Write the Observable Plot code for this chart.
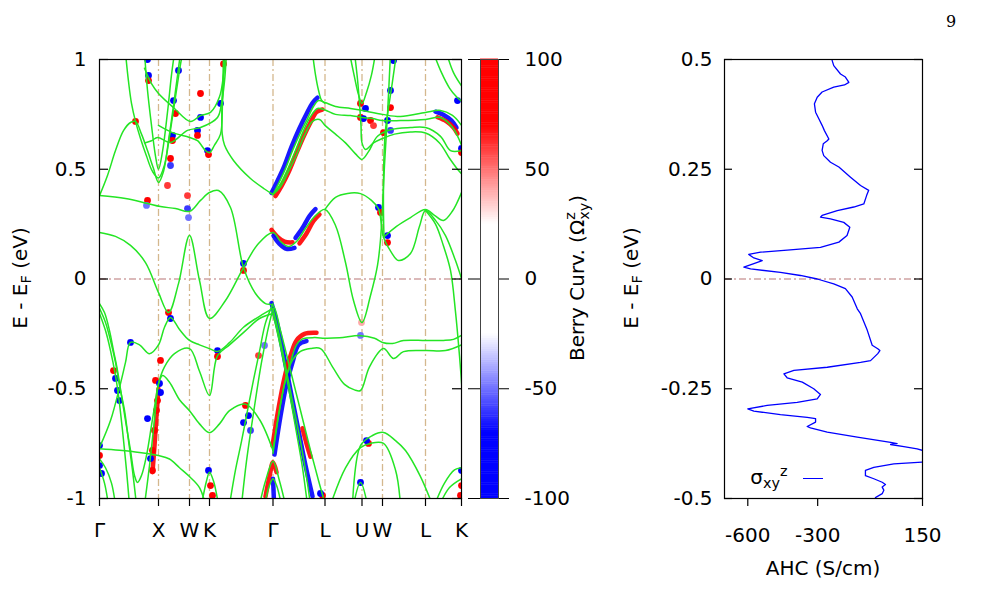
<!DOCTYPE html>
<html>
<head>
<meta charset="utf-8">
<script src="https://cdn.jsdelivr.net/npm/d3@7"></script>
<script src="https://cdn.jsdelivr.net/npm/@observablehq/plot@0.6"></script>
<style>
  body { margin: 0; background: #fff; }
  #fig { position: relative; width: 989px; height: 605px; overflow: hidden; background: #fff;
         font-family: "DejaVu Sans", sans-serif; color: #000; }
  #fig > svg { position: absolute; top: 0; }
  .lab { position: absolute; font-size: 20px; white-space: nowrap; line-height: 1; }
  .rot { transform: translate(-50%, -50%) rotate(-90deg); }
  .ctr { transform: translate(-50%, -50%); }
  .lab sub { font-size: 0.72em; vertical-align: -0.3em; }
  .lab sup { font-size: 0.72em; vertical-align: 0.55em; }
  .stack { display: inline-block; font-size: 0.72em; line-height: 0.95; vertical-align: -0.38em; text-align: left; }
  .stack span { display: block; }
  .page { position: absolute; left: 946px; top: 12px; font-family: "DejaVu Serif", "Liberation Serif", serif; font-size: 16px; }
  .keyline { position: absolute; left: 803px; top: 478px; width: 20px; border-top: 1.3px solid #0000ff; }
</style>
</head>
<body>
<div id="fig"></div>
<script>
// ---- high-symmetry path --------------------------------------------------
const kTicks  = [0, 0.59, 0.90, 1.10, 1.735, 2.255, 2.625, 2.83, 3.26, 3.62];
const kLabels = ["Γ", "X", "W", "K", "Γ", "L", "U", "W", "L", "K"];
const eTicks  = [-1, -0.5, 0, 0.5, 1];

// ---- band energies [k, E - E_F (eV)] ---------------------------------------
const band01 = [[0,0.380],[0.26,0.367],[0.48,0.344],[0.61,0.330],[0.76,0.321],[0.90,0.308],[1.01,0.358],[1.10,0.394],[1.19,0.403],[1.31,0.326],[1.44,0.052],[1.56,-0.066],[1.66,-0.112],[1.735,-0.121],[1.81,-0.235],[1.91,-0.417],[2.01,-0.599],[2.11,-0.781],[2.19,-0.918],[2.26,-1.03]];
const band02 = [[0,0.212],[0.16,0.194],[0.31,0.153],[0.46,0.075],[0.59,-0.062],[0.69,-0.153],[0.79,-0.021],[0.90,0.198],[1.00,-0.007],[1.10,-0.180],[1.26,-0.098],[1.44,0.052],[1.59,0.162],[1.735,0.212],[1.81,0.171],[1.89,0.148],[1.97,0.171],[2.06,0.230],[2.16,0.289],[2.255,0.317],[2.36,0.244],[2.46,0.075],[2.54,-0.098],[2.625,-0.198],[2.71,-0.075],[2.78,0.062],[2.81,0.180],[2.83,0.330],[2.85,0.520],[2.88,0.750],[2.91,1.03]];
const band03 = [[2.255,0.317],[2.36,0.372],[2.48,0.390],[2.61,0.389],[2.72,0.358],[2.79,0.320],[2.84,0.190],[2.92,0.120],[2.99,0.084],[3.11,0.116],[3.20,0.240],[3.26,0.312],[3.36,0.267],[3.46,0.198],[3.56,0.084],[3.62,0.002]];
const band04 = [[2.84,0.190],[2.97,0.240],[3.11,0.280],[3.26,0.317],[3.35,0.290],[3.44,0.267],[3.53,0.310],[3.62,0.394]];
const band05 = [[1.735,0.385],[1.79,0.435],[1.86,0.503],[1.93,0.585],[2.01,0.667],[2.08,0.731],[2.14,0.786],[2.19,0.813],[2.255,0.804],[2.36,0.786],[2.51,0.777],[2.625,0.768],[2.83,0.750],[3.01,0.740],[3.26,0.759],[3.41,0.768],[3.53,0.745],[3.62,0.700]];
const band06 = [[1.735,0.385],[1.80,0.426],[1.88,0.499],[1.96,0.585],[2.04,0.676],[2.11,0.740],[2.18,0.777],[2.255,0.770],[2.36,0.750],[2.51,0.745],[2.625,0.736],[2.73,0.731],[2.83,0.722],[3.01,0.722],[3.26,0.727],[3.41,0.736],[3.53,0.690],[3.62,0.610]];
const band07 = [[1.735,0.385],[1.81,0.420],[1.89,0.490],[1.97,0.565],[2.05,0.654],[2.13,0.718],[2.20,0.727],[2.255,0.700],[2.36,0.660],[2.46,0.620],[2.56,0.570],[2.625,0.545],[2.69,0.580],[2.78,0.650],[2.91,0.680],[3.11,0.690],[3.26,0.690],[3.41,0.650],[3.51,0.585],[3.62,0.585]];
const band08 = [[2.50,1.03],[2.55,0.92],[2.59,0.84],[2.625,0.800],[2.67,0.850],[2.72,0.930],[2.76,1.03]];
const band09 = [[2.55,1.03],[2.58,0.91],[2.60,0.80],[2.615,0.70],[2.625,0.62],[2.66,0.59],[2.74,0.62],[2.83,0.64],[2.95,0.66],[3.11,0.67],[3.26,0.665],[3.40,0.62],[3.50,0.55],[3.58,0.50],[3.62,0.48]];
const band10 = [[2.97,1.03],[2.93,0.90],[2.89,0.78],[2.86,0.68],[2.845,0.56],[2.84,0.44],[2.84,0.30],[2.845,0.19]];
const band11 = [[2.13,1.03],[2.16,0.93],[2.19,0.86],[2.22,0.815],[2.255,0.800]];
const band12 = [[3.34,1.03],[3.42,0.94],[3.50,0.87],[3.57,0.83],[3.62,0.81]];
const band13 = [[3.47,1.03],[3.54,0.94],[3.62,0.88]];
const band14 = [[0,0.380],[0.08,0.472],[0.16,0.585],[0.24,0.676],[0.31,0.713],[0.36,0.718],[0.42,0.660],[0.48,0.585],[0.54,0.503],[0.59,0.440],[0.64,0.490],[0.69,0.631],[0.74,0.790],[0.78,0.927],[0.81,1.03]];
const band15 = [[0.26,1.03],[0.29,0.90],[0.32,0.80],[0.36,0.718],[0.41,0.640],[0.47,0.560],[0.53,0.490],[0.59,0.460],[0.65,0.52],[0.70,0.65],[0.75,0.80],[0.80,0.95],[0.83,1.03]];
const band16 = [[0.45,1.03],[0.48,0.86],[0.52,0.70],[0.56,0.56],[0.59,0.50],[0.63,0.58],[0.68,0.76],[0.72,0.93],[0.75,1.03]];
const band17 = [[0.45,0.96],[0.52,0.89],[0.59,0.845],[0.75,0.777],[0.91,0.718],[1.01,0.745],[1.11,0.759],[1.20,0.830],[1.24,0.930],[1.26,1.03]];
const band18 = [[0.45,0.62],[0.52,0.63],[0.58,0.645],[0.71,0.622],[0.88,0.677],[1.01,0.690],[1.18,0.736],[1.22,0.80],[1.25,0.90],[1.27,1.03]];
const band19 = [[0.59,0.70],[0.73,0.667],[0.90,0.645],[0.98,0.630],[1.06,0.585],[1.10,0.575],[1.15,0.610],[1.21,0.660],[1.23,0.80],[1.25,1.03]];
const band20 = [[1.735,0.385],[1.65,0.410],[1.51,0.458],[1.34,0.540],[1.25,0.610],[1.227,0.661],[1.225,0.80],[1.235,0.92],[1.24,1.03]];
const band21 = [[0,-0.112],[0.05,-0.153],[0.10,-0.235],[0.14,-0.326],[0.18,-0.417],[0.22,-0.531],[0.26,-0.645],[0.31,-0.781],[0.35,-0.895],[0.38,-0.927],[0.42,-0.895],[0.47,-0.804],[0.52,-0.667],[0.56,-0.554],[0.59,-0.476],[0.65,-0.400],[0.75,-0.340],[0.90,-0.317],[1.00,-0.420],[1.10,-0.531],[1.18,-0.349],[1.30,-0.300],[1.45,-0.240],[1.60,-0.180],[1.735,-0.157]];
const band22 = [[0,-0.134],[0.06,-0.198],[0.11,-0.280],[0.16,-0.380],[0.20,-0.485],[0.25,-0.599],[0.29,-0.736],[0.33,-0.872],[0.37,-1.03]];
const band23 = [[0,-0.157],[0.06,-0.235],[0.11,-0.326],[0.16,-0.440],[0.19,-0.531],[0.23,-0.690],[0.27,-0.872],[0.30,-1.03]];
const band24 = [[0,-0.768],[0.11,-0.645],[0.21,-0.476],[0.26,-0.380],[0.31,-0.289],[0.40,-0.300],[0.50,-0.340],[0.59,-0.300],[0.65,-0.220],[0.71,-0.175],[0.80,-0.230],[0.90,-0.280],[1.00,-0.300],[1.10,-0.317],[1.18,-0.330],[1.30,-0.290],[1.44,-0.220],[1.60,-0.170],[1.735,-0.134]];
const band25 = [[0,-0.773],[0.20,-0.780],[0.40,-0.790],[0.59,-0.804],[0.70,-0.820],[0.80,-0.860],[0.90,-0.900],[1.00,-0.950],[1.06,-1.03]];
const band26 = [[0.45,-1.03],[0.50,-0.85],[0.55,-0.64],[0.59,-0.480],[0.63,-0.440],[0.70,-0.470],[0.80,-0.550],[0.90,-0.600],[1.00,-0.660],[1.10,-0.700],[1.20,-0.660],[1.30,-0.600],[1.46,-0.570],[1.60,-0.640],[1.735,-0.781]];
const band27 = [[1.735,-0.781],[1.79,-0.620],[1.85,-0.480],[1.91,-0.380],[1.97,-0.300],[2.03,-0.273],[2.15,-0.267],[2.255,-0.270],[2.40,-0.268],[2.61,-0.258],[2.75,-0.270],[2.83,-0.289],[2.93,-0.294],[3.04,-0.280],[3.26,-0.280],[3.44,-0.280],[3.54,-0.275],[3.62,-0.257]];
const band28 = [[1.735,-0.795],[1.80,-0.600],[1.86,-0.460],[1.93,-0.370],[2.01,-0.330],[2.11,-0.317],[2.21,-0.317],[2.33,-0.400],[2.45,-0.480],[2.55,-0.505],[2.61,-0.508],[2.70,-0.400],[2.84,-0.317],[2.94,-0.362],[3.04,-0.331],[3.26,-0.326],[3.46,-0.326],[3.62,-0.300]];
const band29 = [[2.31,-1.03],[2.46,-0.86],[2.61,-0.768],[2.71,-0.749],[2.84,-0.749],[2.96,-0.870],[3.01,-1.03]];
const band30 = [[2.53,-1.03],[2.61,-0.759],[2.73,-0.713],[2.84,-0.699],[2.96,-0.736],[3.06,-0.781],[3.21,-0.900],[3.33,-1.03]];
const band31 = [[2.54,-1.03],[2.61,-0.927],[2.68,-1.03]];
const band32 = [[3.35,-1.03],[3.45,-0.930],[3.55,-0.870],[3.62,-0.860]];
const band33 = [[3.40,-1.03],[3.50,-0.950],[3.62,-0.910]];
const band34 = [[3.26,0.312],[3.36,0.250],[3.44,0.150],[3.51,0.039],[3.56,-0.150],[3.60,-0.350],[3.63,-0.53]];
const band35 = [[1.735,-0.112],[1.66,-0.200],[1.60,-0.330],[1.54,-0.460],[1.48,-0.600],[1.42,-0.740],[1.36,-0.870],[1.30,-1.03]];
const band36 = [[1.735,-0.134],[1.68,-0.240],[1.62,-0.380],[1.57,-0.520],[1.52,-0.670],[1.47,-0.830],[1.42,-1.03]];
const band37 = [[1.735,-0.134],[1.80,-0.260],[1.87,-0.420],[1.94,-0.580],[2.01,-0.740],[2.07,-0.900],[2.11,-1.03]];
const band38 = [[1.735,-0.157],[1.82,-0.330],[1.90,-0.520],[1.97,-0.700],[2.03,-0.860],[2.08,-1.03]];
const band39 = [[1.60,-1.03],[1.66,-0.920],[1.735,-0.830],[1.80,-0.920],[1.86,-1.03]];
const band40 = [[1.65,-1.03],[1.70,-0.940],[1.735,-0.910],[1.77,-0.940],[1.82,-1.03]];
const band41 = [[1.02,-1.03],[1.07,-0.920],[1.10,-0.880],[1.14,-0.920],[1.19,-1.03]];
const band42 = [[0,-0.820],[0.06,-0.860],[0.12,-0.930],[0.16,-1.03]];
const band43 = [[0,-0.860],[0.05,-0.930],[0.09,-1.03]];

const bands = [band01, band02, band03, band04, band05, band06, band07, band08, band09, band10,
  band11, band12, band13, band14, band15, band16, band17, band18, band19, band20,
  band21, band22, band23, band24, band25, band26, band27, band28, band29, band30,
  band31, band32, band33, band34, band35, band36, band37, band38, band39, band40,
  band41, band42, band43];

// ---- Berry curvature Ω^z_xy along the bands --------------------------------
// hot spots [k, E, Ω]
const berryDots = [
  [0.48,1.0,-80],[0.49,0.927,-90],[0.49,0.904,80],[0.79,0.95,-80],[1.01,0.845,90],[1.24,0.98,90],
  [0.74,0.813,-90],[0.76,0.754,80],[1.21,0.80,-90],[1.01,0.736,-70],[0.98,0.677,-90],[0.98,0.654,90],
  [0.73,0.654,-90],[0.73,0.631,80],[1.08,0.585,-100],[1.09,0.567,90],[0.71,0.549,70],[0.71,0.517,-60],
  [0.36,0.718,90],[0.48,0.358,90],[0.47,0.335,-50],[0.68,0.426,60],[0.88,0.38,60],[0.88,0.321,-60],
  [0.89,0.28,-50],[1.44,0.071,-100],[1.44,0.039,90],
  [2.61,0.80,90],[2.66,0.777,-90],[2.61,0.736,90],[2.64,0.731,-80],[2.71,0.722,90],[2.74,0.699,60],
  [2.88,0.722,-90],[2.91,0.677,-60],[2.84,0.667,70],[2.94,0.995,-90],[2.91,0.859,-90],[2.91,0.781,90],
  [2.79,0.326,-100],[2.81,0.303,90],[2.88,0.198,-100],[2.88,0.166,80],[3.62,0.595,-100],[3.62,0.576,90],
  [3.58,0.813,-70],
  [0,-0.759,-100],[0,-0.804,90],[0,-0.850,-100],[0.02,-0.886,-80],[0.14,-0.417,80],[0.16,-0.453,-100],
  [0.18,-0.508,-100],[0.20,-0.554,-70],[0.31,-0.289,-80],[0.48,-0.636,-100],[0.61,-0.371,70],
  [0.56,-0.462,100],[0.60,-0.476,-90],[0.61,-0.517,-100],[0.58,-0.554,90],[0.57,-0.599,90],
  [0.55,-0.690,90],[0.53,-0.781,90],[0.51,-0.818,-100],[0.53,-0.872,80],[0.69,-0.153,90],[0.71,-0.180,-70],
  [1.18,-0.326,-100],[1.18,-0.353,80],[1.09,-0.872,-90],[1.11,-0.941,90],[1.13,-0.986,90],
  [1.46,-0.576,90],[1.49,-0.622,-90],[1.44,-0.654,-80],[1.51,-0.690,-60],[1.59,-0.349,60],[1.65,-0.303,-50],
  [2.62,-0.198,40],[2.61,-0.257,-50],[2.69,-0.749,90],[2.67,-0.736,-90],[2.61,-0.927,-70],
  [2.23,-0.986,90],[2.21,-0.977,-90],[3.62,-0.872,-100],[3.62,-0.941,100],[3.61,-0.986,90]
];

// strongly curved stretches, drawn as coloured tracks beside the bands
const trackCondBlue = [[1.72,0.392],[1.78,0.447],[1.85,0.517],[1.92,0.602],[2.00,0.687],[2.07,0.752],[2.13,0.802],[2.18,0.826]];
const trackCondRed  = [[1.76,0.378],[1.82,0.423],[1.89,0.486],[1.96,0.563],[2.04,0.648],[2.11,0.713],[2.17,0.760],[2.23,0.772]];
const trackMidRedA  = [[1.72,0.224],[1.78,0.192],[1.85,0.170],[1.93,0.167]];
const trackMidBlueA = [[1.74,0.197],[1.80,0.160],[1.87,0.137],[1.95,0.142]];
const trackMidBlueB = [[1.96,0.187],[2.03,0.232],[2.10,0.287],[2.16,0.318]];
const trackMidRedB  = [[2.00,0.162],[2.07,0.207],[2.14,0.264],[2.20,0.294]];
const trackValBlue  = [[1.72,-0.110],[1.79,-0.230],[1.86,-0.390],[1.92,-0.530],[1.99,-0.690],[2.06,-0.850],[2.13,-0.990]];
const trackValRed   = [[2.03,-0.68],[2.07,-0.75],[2.11,-0.81]];
const trackLowRed   = [[1.73,-0.760],[1.79,-0.590],[1.85,-0.450],[1.91,-0.350],[1.97,-0.280],[2.05,-0.250],[2.17,-0.245]];
const trackLowBlue  = [[1.75,-0.800],[1.81,-0.625],[1.87,-0.480],[1.93,-0.380],[1.99,-0.300],[2.07,-0.283]];
const trackK2Blue   = [[3.36,0.762],[3.45,0.745],[3.52,0.722],[3.57,0.690]];
const trackK2Red    = [[3.38,0.737],[3.47,0.718],[3.54,0.690],[3.58,0.662]];
const trackXRed     = [[0.53,-0.88],[0.55,-0.76],[0.57,-0.62],[0.59,-0.50]];
const trackBotRed   = [[1.66,-0.99],[1.70,-0.90],[1.735,-0.835],[1.77,-0.88]];
const trackBotBlue  = [[1.735,-0.91],[1.74,-0.96],[1.745,-1.02]];
const trackOmega = [-100, 100, 100, -100, -100, 100, -100, 100, 100, -100, -100, 100, 100, 100, -100];
const tracks = [trackCondBlue, trackCondRed, trackMidRedA, trackMidBlueA, trackMidBlueB, trackMidRedB,
  trackValBlue, trackValRed, trackLowRed, trackLowBlue, trackK2Blue, trackK2Red, trackXRed,
  trackBotRed, trackBotBlue];

// colour bar
const berryDomain = [-100, -70, -25, 25, 70, 100];
const berryRange  = ["#0000ff", "#0000ff", "#ffffff", "#ffffff", "#ff0000", "#ff0000"];
const berryTicks  = [-100, -50, 0, 50, 100];

// ---- anomalous Hall conductivity σ^z_xy (S/cm) vs E - E_F (eV) -------------
const ahcEnergy = [0.5,0.498,0.486,0.467,0.460,0.448,0.442,0.437,0.426,0.414,0.399,0.380,0.365,0.350,0.338,0.319,0.315,0.308,0.293,0.281,0.266,0.255,0.232,0.213,0.202,0.190,0.171,0.164,0.156,0.145,0.141,0.137,0.129,0.118,0.099,0.084,0.072,0.066,0.061,0.056,0.048,0.042,0.035,0.027,0.023,0.015,0.008,0.0,-0.011,-0.022,-0.041,-0.068,-0.079,-0.117,-0.151,-0.159,-0.163,-0.170,-0.186,-0.190,-0.201,-0.208,-0.216,-0.225,-0.235,-0.250,-0.263,-0.273,-0.281,-0.288,-0.296,-0.301,-0.309,-0.315,-0.318,-0.326,-0.336,-0.339,-0.349,-0.360,-0.372,-0.375,-0.377,-0.382,-0.387,-0.391,-0.404,-0.417,-0.421,-0.429,-0.436,-0.448,-0.455,-0.463,-0.468,-0.474,-0.481,-0.489,-0.498,-0.5];
const ahcValue  = [-238,-238,-231,-202,-181,-166,-185,-231,-281,-302,-314,-309,-295,-281,-271,-252,-259,-276,-281,-274,-245,-209,-159,-116,-81,-90,-102,-145,-216,-281,-288,-245,-188,-162,-174,-209,-288,-431,-545,-596,-574,-538,-574,-617,-588,-460,-374,-302,-231,-181,-152,-130,-116,-87,-66,-42,-33,-42,-73,-116,-259,-402,-445,-431,-366,-317,-288,-302,-388,-517,-600,-574,-460,-345,-309,-309,-345,-331,-259,-130,13,41,13,70,127,153,230,150,27,-59,-95,-95,-59,-23,-9,-23,-16,-23,-52,-50];
const ahcTicks  = [-600, -300, 150];
const ahcETicks = [-0.5, -0.25, 0, 0.25, 0.5];

// ---- shared settings ---------------------------------------------------------
const fig = document.getElementById("fig");
const baseStyle = {fontFamily: "DejaVu Sans, sans-serif", fontSize: "20px", color: "black", background: "transparent", overflow: "visible"};
const colorOpts = {type: "linear", domain: berryDomain, range: berryRange, clamp: true, interpolate: "rgb"};
const dashDot = "7,3,2,3";
const kName = new Map(kTicks.map((k, i) => [k, kLabels[i]]));

const bandRows = bands.flatMap((b, i) => b.map(([k, e]) => ({k, e, band: i})));
const ahcRows  = ahcEnergy.map((e, i) => ({e, s: ahcValue[i]}));

// one line mark per curvature track, coloured through the shared colour scale
const trackMarks = tracks.map((t, i) => Plot.line(t, {
  x: d => d[0], y: d => d[1], stroke: () => trackOmega[i],
  strokeWidth: 4.5, strokeOpacity: 0.9, curve: "catmull-rom", clip: true
}));

// ---- band structure panel ---------------------------------------------------
const bandPlot = Plot.plot({
  width: 471, height: 560,
  marginLeft: 99, marginRight: 10, marginTop: 59, marginBottom: 62,
  x: {domain: [0, 3.62]},
  y: {domain: [-1, 1]},
  color: colorOpts,
  style: baseStyle,
  marks: [
    Plot.ruleX(kTicks.slice(1, -1), {stroke: "#d4b88e", strokeWidth: 1.3, strokeDasharray: dashDot}),
    Plot.ruleY([0], {stroke: "#cfa3a3", strokeWidth: 1.3, strokeDasharray: dashDot}),
    ...trackMarks,
    Plot.dot(berryDots, {x: d => d[0], y: d => d[1], fill: d => d[2], r: 3.4, clip: true,
      imageFilter: "blur(0.6px)"}),
    Plot.line(bandRows, {x: "k", y: "e", z: "band", stroke: "#24e524", strokeWidth: 1.5,
      curve: "catmull-rom", clip: true}),
    Plot.frame({stroke: "black", strokeWidth: 1.2}),
    Plot.tickY(eTicks, {y: d => d, insetRight: 353, stroke: "black", strokeWidth: 1.2}),
    Plot.tickY(eTicks, {y: d => d, insetLeft: 353, stroke: "black", strokeWidth: 1.2}),
    Plot.axisY({ticks: eTicks, tickSize: 0, tickPadding: 13, tickFormat: d => String(d), label: null}),
    Plot.axisX({ticks: kTicks, tickSize: 8, tickPadding: 16, tickFormat: d => kName.get(d), label: null,
      strokeWidth: 1.2})
  ]
});
bandPlot.style.left = "0px";
fig.appendChild(bandPlot);

// ---- colour bar -------------------------------------------------------------
const barSteps = d3.range(-100, 100, 1);
const barPlot = Plot.plot({
  width: 140, height: 560,
  marginLeft: 20, marginRight: 102, marginTop: 59, marginBottom: 62,
  y: {domain: [-100, 100]},
  color: colorOpts,
  style: baseStyle,
  marks: [
    Plot.rect(barSteps, {y1: d => d, y2: d => d + 1.2, fill: d => d + 0.5}),
    Plot.frame({stroke: "#444", strokeWidth: 1}),
    Plot.axisY({anchor: "left", ticks: berryTicks, tickSize: 12, tickFormat: () => "", label: null}),
    Plot.axisY({anchor: "right", ticks: berryTicks, tickSize: 10, tickPadding: 16,
      tickFormat: d => String(d), label: null})
  ]
});
barPlot.style.left = "460px";
fig.appendChild(barPlot);

// ---- anomalous Hall conductivity panel -------------------------------------
const ahcPlot = Plot.plot({
  width: 340, height: 580,
  marginLeft: 124, marginRight: 18, marginTop: 59, marginBottom: 82,
  x: {domain: [-700, 150]},
  y: {domain: [-0.5, 0.5]},
  style: baseStyle,
  marks: [
    Plot.ruleY([0], {stroke: "#cfa3a3", strokeWidth: 1.3, strokeDasharray: dashDot}),
    Plot.line(ahcRows, {x: "s", y: "e", stroke: "#0000ff", strokeWidth: 1.3, clip: true}),
    Plot.frame({stroke: "black", strokeWidth: 1.2}),
    Plot.tickY(ahcETicks, {y: d => d, insetRight: 190, stroke: "black", strokeWidth: 1.2}),
    Plot.tickY(ahcETicks, {y: d => d, insetLeft: 190, stroke: "black", strokeWidth: 1.2}),
    Plot.axisY({ticks: ahcETicks, tickSize: 0, tickPadding: 12, tickFormat: d => String(d), label: null}),
    Plot.axisX({ticks: ahcTicks, tickSize: 8, tickPadding: 21, tickFormat: d => String(d), label: null,
      strokeWidth: 1.2})
  ]
});
ahcPlot.style.left = "600px";
fig.appendChild(ahcPlot);

// ---- titles and key ---------------------------------------------------------
function label(html, x, y, cls) {
  const d = document.createElement("div");
  d.className = "lab " + cls;
  d.style.left = x + "px";
  d.style.top = y + "px";
  d.innerHTML = html;
  fig.appendChild(d);
}
label("E - E<sub>F</sub> (eV)", 22, 278, "rot");
label('Berry Curv. (Ω<span class="stack"><span>z</span><span>xy</span></span>)', 578, 278, "rot");
label("E - E<sub>F</sub> (eV)", 633, 278, "rot");
label("AHC (S/cm)", 823, 568, "ctr");
label("σ<sub>xy</sub><sup>z</sup>", 769, 477, "ctr");
const key = document.createElement("div");
key.className = "keyline";
fig.appendChild(key);
const page = document.createElement("div");
page.className = "page";
page.textContent = "9";
fig.appendChild(page);
</script>
</body>
</html>
